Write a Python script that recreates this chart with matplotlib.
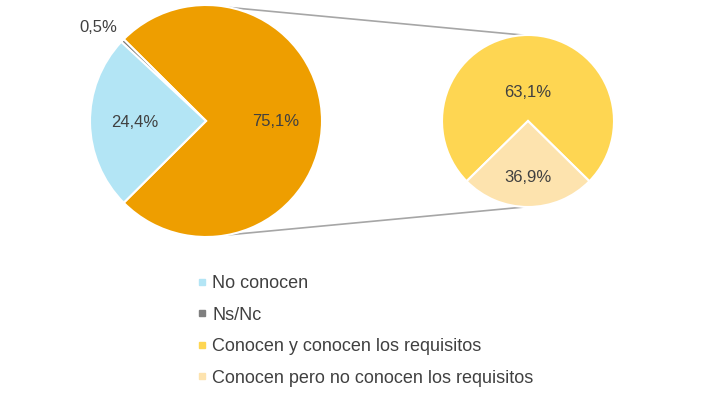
import numpy as np
import matplotlib.pyplot as plt
from matplotlib.lines import Line2D

plt.rcParams['font.family'] = ['Liberation Sans', 'DejaVu Sans']

# main pie: Conocen (split in the second pie), Ns/Nc, No conocen
main_values = [75.1, 0.5, 24.4]
main_colors = ['#EE9E00', '#7F7F7F', '#B3E5F5']

# second pie: labels as printed, slice shares as drawn in the picture
zoom_values = [63.1, 36.9]
zoom_shares = [74.7, 25.3]
zoom_colors = ['#FED652', '#FDE3AE']

legend_labels = ['No conocen', 'Ns/Nc',
                 'Conocen y conocen los requisitos',
                 'Conocen pero no conocen los requisitos']
legend_colors = ['#B3E5F5', '#7F7F7F', '#FED652', '#FDE3AE']

text_col = '#404040'


def pct(v):
    return ('%.1f%%' % v).replace('.', ',')


fig = plt.figure(figsize=(7.04, 3.96), dpi=100)
ax = fig.add_axes([0, 0, 1, 1])

c1, r1 = (206, 275), 116
c2, r2 = (528, 275), 86

start1 = -360 * main_values[0] / 100 / 2
w1, _ = ax.pie(main_values, colors=main_colors, center=c1, radius=r1,
               startangle=start1, counterclock=True,
               wedgeprops=dict(edgecolor='white', linewidth=1.5), frame=True)

start2 = 90 - 360 * zoom_shares[0] / 100 / 2
w2, _ = ax.pie(zoom_shares, colors=zoom_colors, center=c2, radius=r2,
               startangle=start2, counterclock=True,
               wedgeprops=dict(edgecolor='white', linewidth=1.5), frame=True)
ax.set_xlim(0, 704)
ax.set_ylim(0, 396)
ax.set_aspect('equal')
ax.axis('off')

# labels of main pie
dists = [0.6, 1.23, 0.61]
for w, v, d in zip(w1, main_values, dists):
    a = np.deg2rad((w.theta1 + w.theta2) / 2)
    if d > 1:
        a = np.deg2rad(139)
    ax.text(c1[0] + d * r1 * np.cos(a), c1[1] + d * r1 * np.sin(a), pct(v),
            ha='center', va='center', fontsize=12, color=text_col)

dists2 = [0.33, 0.66]
for w, v, d in zip(w2, zoom_values, dists2):
    a = np.deg2rad((w.theta1 + w.theta2) / 2)
    ax.text(c2[0] + d * r2 * np.cos(a), c2[1] + d * r2 * np.sin(a), pct(v),
            ha='center', va='center', fontsize=12, color=text_col)

# connector lines
for a1, a2 in [(78, 93), (-79, -92)]:
    p1 = (c1[0] + r1 * np.cos(np.deg2rad(a1)), c1[1] + r1 * np.sin(np.deg2rad(a1)))
    p2 = (c2[0] + r2 * np.cos(np.deg2rad(a2)), c2[1] + r2 * np.sin(np.deg2rad(a2)))
    ax.plot([p1[0], p2[0]], [p1[1], p2[1]], color='#A6A6A6', lw=1.2, zorder=0)

handles = [Line2D([], [], marker='s', color=c, ls='none', markersize=5)
           for c in legend_colors]
fig.legend(handles, legend_labels, loc='upper left',
           bbox_to_anchor=(189 / 704, 1 - 268 / 396), frameon=False,
           fontsize=13, labelcolor=text_col, handlelength=0.6,
           handletextpad=0.3, labelspacing=0.8, borderaxespad=0)

fig.savefig('out.png', dpi=100, facecolor='white')
